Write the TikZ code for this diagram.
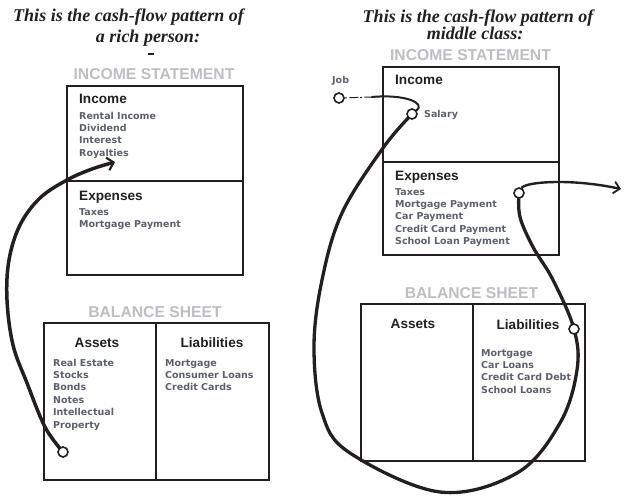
\documentclass[tikz,border=0pt]{standalone}
\usepackage{fontspec}
\setmainfont{Liberation Sans}
\newfontfamily\titlefont{Liberation Serif}
\newfontfamily\itemfont{DejaVu Sans}
\usetikzlibrary{arrows.meta,backgrounds}
\definecolor{ink}{RGB}{35,31,32}
\definecolor{itemgray}{RGB}{92,96,108}
\definecolor{sheetgray}{RGB}{190,190,194}
\begin{document}
\begin{tikzpicture}[x=1pt,y=-1pt,
 box/.style={draw=ink,line width=2.9pt},
 title/.style={font=\titlefont\bfseries\itshape\fontsize{18}{20}\selectfont, text=ink, inner sep=0, anchor=base},
 sheet/.style={font=\bfseries\fontsize{15.7}{18}\selectfont, text=sheetgray, inner sep=0, anchor=base},
 head/.style={font=\bfseries\fontsize{13.6}{16}\selectfont, text=ink, inner sep=0, anchor=base west},
 headc/.style={head, anchor=base},
 item/.style={font=\itemfont\bfseries\fontsize{9.5}{12}\selectfont, text=itemgray, inner sep=0, anchor=base west},
 dot/.style={circle, draw=ink, fill=white, line width=1.6pt, minimum size=10pt, inner sep=0},
 flow/.style={draw=ink, line width=3.3pt, line cap=round, line join=round},
]
\useasboundingbox (0,0) rectangle (632,498);

% ---------- Left: rich person ----------
\node[title] (t1a) at (128.5,21) {This is the cash-flow pattern of};
\node[title] (t1b) at (148,42) {a rich person:};
\draw[ink, line width=1.2pt] (148,54) -- (154,54);
\node[sheet] (is1) at (154,79.3) {INCOME STATEMENT};
\draw[box] (67,86) rectangle (243,275);
\draw[box] (67,181) -- (243,181);
\node[head] (inc1) at (79,103) {Income};
\foreach \t [count=\i from 0] in {Rental Income, Dividend, Interest, Royalties}
  \node[item] (ri\i) at (79,119+12.4*\i) {\t};
\node[head] (exp1) at (79,200) {Expenses};
\foreach \t [count=\i from 0] in {Taxes, Mortgage Payment}
  \node[item] (re\i) at (79,215+12.4*\i) {\t};

\node[sheet] (bs1) at (155,317.7) {BALANCE SHEET};
\draw[box] (44,323) rectangle (269,480);
\draw[box] (156,323) -- (156,480);
\node[headc] (as1) at (97,347) {Assets};
\node[headc] (li1) at (212,347) {Liabilities};
\foreach \t [count=\i from 0] in {Real Estate, Stocks, Bonds, Notes, Intellectual, Property}
  \node[item] (ra\i) at (53,366+12.4*\i) {\t};
\foreach \t [count=\i from 0] in {Mortgage, Consumer Loans, Credit Cards}
  \node[item] (rl\i) at (165,366+12.4*\i) {\t};

\node[dot] (lc) at (63,452) {};
\coordinate (ltip) at (115,162);

% ---------- Right: middle class ----------
\node[title] (t2a) at (478,22.5) {This is the cash-flow pattern of};
\node[title] (t2b) at (475,39.5) {middle class:};
\node[sheet] (is2) at (470.5,60) {INCOME STATEMENT};
\draw[box] (383,67) rectangle (559,255);
\draw[box] (383,162) -- (559,162);
\node[head] (inc2) at (395,84) {Income};
\node[item] (job) at (332,83) {Job};
\node[item] (sallab) at (424,117.5) {Salary};
\node[head] (exp2) at (395,180) {Expenses};
\foreach \t [count=\i from 0] in {Taxes, Mortgage Payment, Car Payment, Credit Card Payment, School Loan Payment}
  \node[item] (me\i) at (395,195+12.35*\i) {\t};

\node[sheet] (bs2) at (471.5,298.3) {BALANCE SHEET};
\draw[box] (361,304) rectangle (585,461);
\draw[box] (473,304) -- (473,461);
\node[headc] (as2) at (413,328.5) {Assets};
\node[headc] (li2) at (528,329) {Liabilities};
\foreach \t [count=\i from 0] in {Mortgage, Car Loans, Credit Card Debt, School Loans}
  \node[item] (ml\i) at (481,356+12.4*\i) {\t};

\node[dot] (jc) at (339,98) {};
\node[dot] (sc) at (412,114) {};
\node[dot] (ec) at (519,193) {};
\node[dot] (lic) at (574,329) {};
\coordinate (jm) at (372,97);
\coordinate (rtip) at (621,189);

\begin{pgfonlayer}{background}
  % left arrow: assets -> income
  \draw[flow, line width=3.5pt, -{Straight Barb[length=6pt,width=13pt,line width=2.2pt]}]
    plot[smooth, tension=0.6] coordinates {(lc) (45,427) (27,383) (13,345) (7,300) (9,260) (20,225) (40,198) (67,180) (92,169) (ltip)};
  % job -> salary
  \draw[ink, line width=1pt, dash pattern=on 2pt off 2.5pt on 9pt off 1.5pt] (jc) -- (jm);
  \draw[flow, line width=2pt] (jm) .. controls (405,94) and (426,103) .. (sc);
  % big loop: salary -> ... -> liabilities -> expenses
  \draw[flow] plot[smooth, tension=0.6] coordinates {(sc) (383,148) (342,213) (322,280) (314,347) (322,413) (350,453) (440,492) (517,473) (560,423) (577,370) (lic) (553,280) (533,247) (520,217) (ec)};
  % expenses -> out
  \draw[flow, line width=2.4pt, -{Straight Barb[length=6pt,width=12pt,line width=1.8pt]}]
    (ec) .. controls (525,182) and (570,178) .. (rtip);
\end{pgfonlayer}
\end{tikzpicture}
\end{document}
